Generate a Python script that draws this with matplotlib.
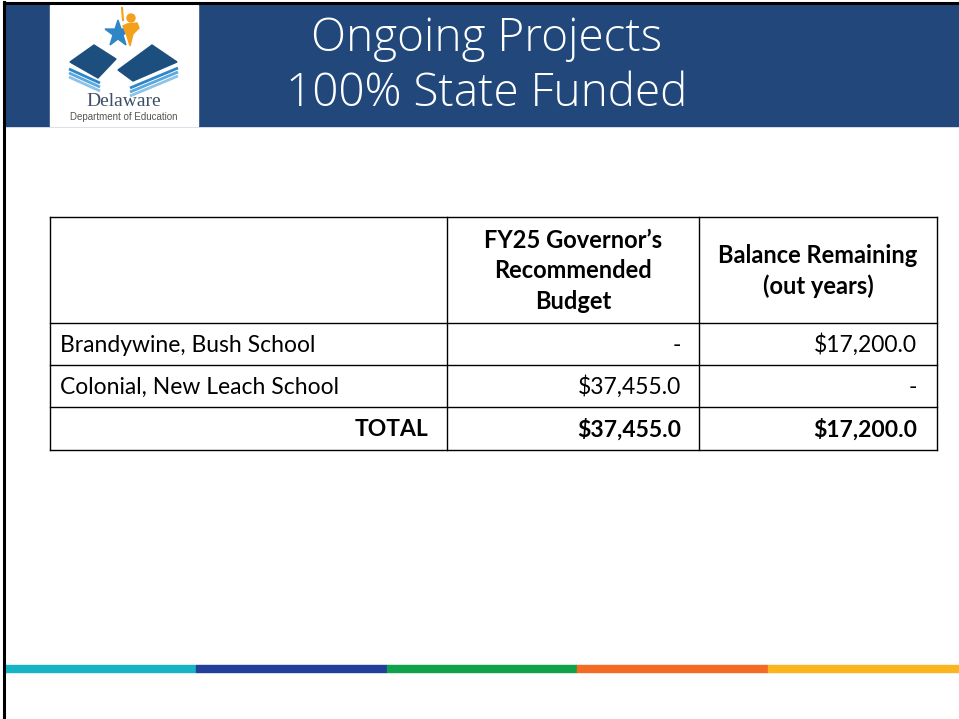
import matplotlib.pyplot as plt
from matplotlib.patches import Rectangle, Polygon
import matplotlib.patches as mpatches

# table data
col_headers = ["", "FY25 Governor\u2019s\nRecommended\nBudget", "Balance Remaining\n(out years)"]
projects = ["Brandywine, Bush School", "Colonial, New Leach School"]
fy25_budget = [None, 37455.0]
balance_remaining = [17200.0, None]
total_label = "TOTAL"

title_lines = ["Ongoing Projects", "100% State Funded"]
strip_colors = ["#17b5c4", "#22409a", "#0fa24a", "#f46b23", "#fbb61f"]

W, H = 959, 719
fig = plt.figure(figsize=(W / 100, H / 100), dpi=100)
ax = fig.add_axes([0, 0, 1, 1])
ax.set_xlim(0, W)
ax.set_ylim(H, 0)
ax.axis("off")

BODY = ["Lato", "DejaVu Sans"]
FS = 16.5
FS_HEAD = 17


def money(v):
    return "-" if v is None else f"${v:,.1f}"


# slide frame + header band
ax.add_patch(Rectangle((5, 5), W - 5, 121, color="#21477b", zorder=1))
ax.plot([4, 4], [2, H], color="black", lw=2.2, zorder=5)
ax.plot([4, W], [3, 3], color="black", lw=2.2, zorder=5)

# logo
ax.add_patch(Rectangle((50, 5), 148, 121, color="white", zorder=2))
ax.add_patch(mpatches.Polygon(
    [(118, 20), (121, 29), (131, 29), (123, 35), (126, 45), (118, 39),
     (110, 45), (113, 35), (105, 29), (115, 29)], color="#2f86c6", zorder=3))
ax.add_patch(mpatches.Circle((131, 18), 4, color="#f5a01c", zorder=4))
ax.add_patch(Polygon([(123, 26), (127, 24), (137, 23), (139, 28), (133, 34), (130, 46),
                      (127, 36)], color="#f5a01c", zorder=4))
ax.plot([122, 123], [8, 20], color="#f5a01c", lw=1.5, zorder=4)
ax.add_patch(Polygon([(70, 62), (94, 45), (116, 59), (98, 78)], color="#1c4f7e", zorder=3))
ax.add_patch(Polygon([(118, 70), (152, 45), (177, 62), (133, 81)], color="#1c4f7e", zorder=3))
for i, c in enumerate(["#2f86c6", "#5aa8de", "#8cc3ea"]):
    d = 4 * i
    ax.plot([69, 100], [69 + d, 83 + d], color=c, lw=2, zorder=3, solid_capstyle="butt")
    ax.plot([130, 178], [88 + d, 68 + d], color=c, lw=2, zorder=3, solid_capstyle="butt")
ax.text(124, 102, "Delaware", ha="center", va="center", fontsize=14,
        family=["Liberation Serif", "DejaVu Serif"], color="#3d4f66", zorder=4)
ax.text(124, 117, "Department of Education", ha="center", va="center", fontsize=7,
        family=["Liberation Sans", "DejaVu Sans"], color="#555555", zorder=4)

# title
for i, line in enumerate(title_lines):
    ax.text(487, 39 + 55 * i, line, ha="center", va="center", fontsize=33,
            family=["Open Sans", "DejaVu Sans"], fontweight="light", color="white", zorder=4)

# table geometry
xs = [50, 447, 699, 937]
ys = [217, 323, 365, 407, 450]
for x in xs:
    ax.plot([x, x], [ys[0], ys[-1]], color="black", lw=1, zorder=3)
for y in ys:
    ax.plot([xs[0], xs[-1]], [y, y], color="black", lw=1, zorder=3)

# header cells
for j in (1, 2):
    ax.text((xs[j] + xs[j + 1]) / 2, (ys[0] + ys[1]) / 2 + 1, col_headers[j], ha="center",
            va="center", fontsize=FS_HEAD, fontweight="bold", family=BODY,
            linespacing=1.38, color="black")

# body rows
pad = 10
for i, name in enumerate(projects):
    yc = (ys[i + 1] + ys[i + 2]) / 2 + 1
    ax.text(xs[0] + pad, yc, name, ha="left", va="center", fontsize=FS, family=BODY)
    ax.text(xs[2] - 18, yc, money(fy25_budget[i]), ha="right", va="center",
            fontsize=FS, family=BODY)
    ax.text(xs[3] - 20, yc, money(balance_remaining[i]), ha="right", va="center",
            fontsize=FS, family=BODY)

# total row
yc = (ys[3] + ys[4]) / 2 + 1
fy25_total = sum(v for v in fy25_budget if v is not None)
bal_total = sum(v for v in balance_remaining if v is not None)
ax.text(xs[1] - 19, yc, total_label, ha="right", va="center", fontsize=FS,
        fontweight="bold", family=BODY)
ax.text(xs[2] - 18, yc, money(fy25_total), ha="right", va="center", fontsize=FS,
        fontweight="bold", family=BODY)
ax.text(xs[3] - 20, yc, money(bal_total), ha="right", va="center", fontsize=FS,
        fontweight="bold", family=BODY)

# bottom colour strip
seg = (W - 5) / len(strip_colors)
for k, c in enumerate(strip_colors):
    ax.add_patch(Rectangle((5 + k * seg, 665), seg, 7, color=c, zorder=2))

fig.savefig("out.png", dpi=100)
